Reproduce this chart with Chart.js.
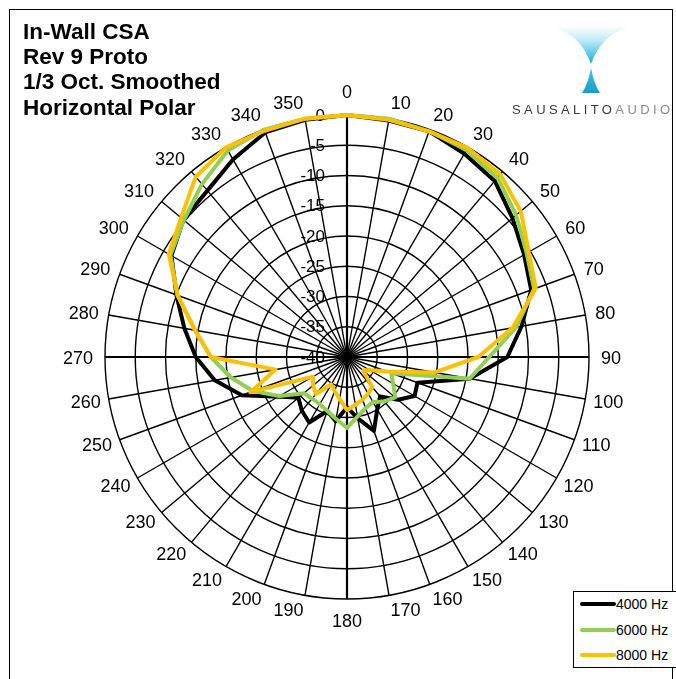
<!DOCTYPE html>
<html>
<head>
<meta charset="utf-8">
<script src="https://cdn.jsdelivr.net/npm/chart.js@4.4.1/dist/chart.umd.min.js"></script>
<style>
  html, body { margin: 0; padding: 0; background: #fff; }
  body { width: 676px; height: 679px; position: relative; overflow: hidden;
         font-family: "Liberation Sans", Arial, sans-serif; }
  #frame { position: absolute; left: 9px; top: 9px; width: 662px; height: 720px; border: 1px solid #000; }
  #chart { position: absolute; left: 0; top: 0; }
  #title { position: absolute; left: 23px; top: 19px; font-weight: bold; font-size: 22.5px;
           line-height: 25.2px; color: #000; white-space: nowrap; }
  #logo { position: absolute; left: 540px; top: 24px; }
  #brand { position: absolute; left: 512px; top: 102px; font-size: 13px; letter-spacing: 3.4px;
           color: #3a3a3a; white-space: nowrap; }
  #brand span { color: #8c8c8c; }
  #legend { position: absolute; left: 573px; top: 591px; width: 110px; height: 75px;
            border: 1px solid #000; background: #fff; }
  .item { position: absolute; left: 6px; height: 18px; display: flex; align-items: center;
          font-size: 14px; color: #000; white-space: nowrap; }
  .swatch { width: 36px; height: 4px; border-radius: 2px; }
</style>
</head>
<body>
<div id="frame"></div>
<canvas id="chart" width="676" height="679"></canvas>
<div id="title">In-Wall CSA<br>Rev 9 Proto<br>1/3 Oct. Smoothed<br>Horizontal Polar</div>
<svg id="logo" width="100" height="75" viewBox="0 0 100 75">
  <defs>
    <linearGradient id="funnelTop" x1="0" y1="0" x2="0" y2="1">
      <stop offset="0" stop-color="#ffffff"/>
      <stop offset="0.35" stop-color="#c6ecf6"/>
      <stop offset="1" stop-color="#16b3dc"/>
    </linearGradient>
    <linearGradient id="funnelBottom" x1="0" y1="0" x2="0" y2="1">
      <stop offset="0" stop-color="#42c3e4"/>
      <stop offset="1" stop-color="#1a9bcb"/>
    </linearGradient>
  </defs>
  <path d="M14 4 Q40 10 51 40 Q62 10 88 4 Q51 0 14 4 Z" fill="url(#funnelTop)"/>
  <path d="M51 44 Q48 60 42 69 L60 69 Q54 60 51 44 Z" fill="url(#funnelBottom)"/>
</svg>
<div id="brand">SAUSALITO<span>AUDIO</span></div>
<div id="legend"></div>
<script>
// Angle of each measurement, degrees clockwise from on-axis
const ANGLE_LABELS = ['0','10','20','30','40','50','60','70','80','90','100','110',
  '120','130','140','150','160','170','180','190','200','210','220','230',
  '240','250','260','270','280','290','300','310','320','330','340','350'];

// Radial axis: relative level in dB
const DB_TICKS = [0, -5, -10, -15, -20, -25, -30, -35, -40];

const SERIES_NAMES = ['4000 Hz', '6000 Hz', '8000 Hz'];
const SERIES_COLORS = ['#000000', '#92d050', '#ffc000'];

// Relative response (dB) at each angle
const HZ4000 = [0, -0.3, -0.3, -1.2, -2, -4.3, -6.2, -7.6, -10.7, -13.5, -19.4, -27.6,
  -27.1, -29, -31.5, -30, -27, -29.7, -31.7, -29.2, -30.5, -27.5, -28.4, -29.5,
  -26.9, -21.5, -17.8, -15, -12.7, -10, -6.5, -4.7, -4.1, -2.3, -0.5, -0.2];
const HZ6000 = [0, 0, -0.3, -0.5, -1.3, -3.5, -5.7, -7.1, -11.6, -16.5, -19.4, -32.2,
  -31.2, -29.6, -30.4, -31.4, -31, -30, -28.3, -29.6, -30.5, -31, -31, -30.7,
  -27.1, -23.5, -20.5, -17.5, -14.5, -10.2, -6.3, -4.8, -2.7, -0.6, 0, 0];
const HZ8000 = [0, -0.2, -0.3, -0.1, -0.6, -2.5, -5.3, -6.8, -12.2, -18.3, -25.3, -33,
  -35.7, -36.5, -33.5, -33, -32.5, -32, -31.2, -33, -34, -34.8, -32, -32.7,
  -33.5, -23, -28, -17.5, -14.5, -10.2, -6, -4.2, -1.1, 0, -0.2, 0];

const SERIES_VALUES = [HZ4000, HZ6000, HZ8000];

const FONT = '"Liberation Sans", Arial, sans-serif';
const DIGIT_HEIGHT = 13;

// Gap between the rim and the anchor point of an angle label
function labelGap(deg) {
  if (deg === 0) return 17;
  if (deg === 180) return 15;
  if (deg === 90 || deg === 270) return 12;
  return deg > 90 && deg < 270 ? 8 : 10;
}

// Level labels along the 0° spoke and angle labels round the rim
const radialText = {
  id: 'radialText',
  beforeDatasetsDraw(chart) {
    const r = chart.scales.r;
    const ctx = chart.ctx;
    ctx.save();
    ctx.fillStyle = '#000';
    ctx.font = '17px ' + FONT;
    ctx.textAlign = 'right';
    ctx.textBaseline = 'middle';
    DB_TICKS.forEach(v => {
      const d = r.getDistanceFromCenterForValue(v);
      ctx.fillText(String(v), r.xCenter - 22, r.yCenter - d + 1);
    });
    ctx.font = '18px ' + FONT;
    ctx.textBaseline = 'alphabetic';
    ANGLE_LABELS.forEach((lab, i) => {
      const deg = Number(lab);
      const p = r.getPointPosition(i, r.drawingArea + labelGap(deg));
      const s = Math.sin(deg * Math.PI / 180);
      const c = Math.cos(deg * Math.PI / 180);
      ctx.textAlign = s > 1e-6 ? 'left' : (s < -1e-6 ? 'right' : 'center');
      // vertical centre slides smoothly from above the anchor (top) to below it (bottom)
      const yMid = p.y - (DIGIT_HEIGHT / 2) * c;
      ctx.fillText(lab, p.x, yMid + DIGIT_HEIGHT / 2);
    });
    ctx.restore();
  }
};

const datasets = SERIES_NAMES.map((name, i) => ({
  label: name,
  data: SERIES_VALUES[i],
  borderColor: SERIES_COLORS[i],
  backgroundColor: SERIES_COLORS[i],
  borderWidth: 4,
  borderJoinStyle: 'round',
  pointRadius: 0,
  pointHoverRadius: 0,
  fill: false,
  tension: 0,
  clip: false,
  order: SERIES_NAMES.length - i
}));

const chart = new Chart(document.getElementById('chart'), {
  type: 'radar',
  data: { labels: ANGLE_LABELS, datasets },
  plugins: [radialText],
  options: {
    responsive: false,
    animation: false,
    events: [],
    layout: { padding: { left: 105, top: 115, right: 87, bottom: 80 } },
    plugins: { legend: { display: false }, tooltip: { enabled: false } },
    scales: {
      r: {
        min: -40,
        max: 0,
        startAngle: 0,
        ticks: { stepSize: 5, display: false },
        pointLabels: { display: false },
        grid: { circular: true, color: '#000', lineWidth: 1.4 },
        angleLines: {
          color: '#000',
          lineWidth: ctx => (ctx.index % 9 === 0 ? 2.2 : 1.4)
        }
      }
    }
  }
});

// Legend box built from the datasets
const legend = document.getElementById('legend');
const rowTops = [3, 29, 54];
chart.data.datasets.forEach((ds, i) => {
  const item = document.createElement('div');
  item.className = 'item';
  item.style.top = rowTops[i] + 'px';
  const sw = document.createElement('span');
  sw.className = 'swatch';
  sw.style.background = ds.borderColor;
  const txt = document.createElement('span');
  txt.textContent = ds.label;
  item.appendChild(sw);
  item.appendChild(txt);
  legend.appendChild(item);
});
</script>
</body>
</html>
